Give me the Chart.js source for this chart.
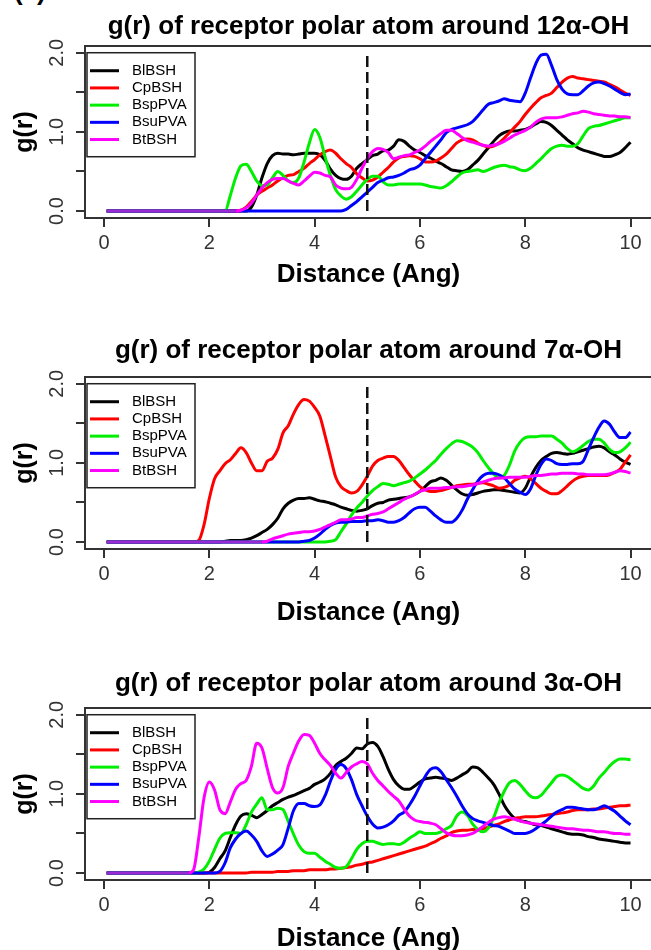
<!DOCTYPE html>
<html>
<head>
<meta charset="utf-8">
<script src="https://cdn.jsdelivr.net/npm/chart.js@4.4.1/dist/chart.umd.min.js"></script>
<style>
  html, body { margin: 0; padding: 0; background: #fff; overflow: hidden; }
  body { width: 651px; height: 950px; position: relative; }
  canvas { position: absolute; left: 0; }
  #tag { position: absolute; left: 14px; top: -24px; font: bold 26px "Liberation Sans", Arial, sans-serif; }
</style>
</head>
<body>
<div id="tag">(a)</div>
<canvas id="c12" width="660" height="331" style="top:0px"></canvas>
<canvas id="c7" width="660" height="331" style="top:331px"></canvas>
<canvas id="c3" width="660" height="331" style="top:662px"></canvas>
<script>
// distance (Ang)
const dist = [0.05,
  1.6, 1.7, 1.8, 1.9,
  2.0, 2.1, 2.2, 2.3, 2.4, 2.5, 2.6, 2.7, 2.8, 2.9,
  3.0, 3.1, 3.2, 3.3, 3.4, 3.5, 3.6, 3.7, 3.8, 3.9,
  4.0, 4.1, 4.2, 4.3, 4.4, 4.5, 4.6, 4.7, 4.8, 4.9,
  5.0, 5.1, 5.2, 5.3, 5.4, 5.5, 5.6, 5.7, 5.8, 5.9,
  6.0, 6.1, 6.2, 6.3, 6.4, 6.5, 6.6, 6.7, 6.8, 6.9,
  7.0, 7.1, 7.2, 7.3, 7.4, 7.5, 7.6, 7.7, 7.8, 7.9,
  8.0, 8.1, 8.2, 8.3, 8.4, 8.5, 8.6, 8.7, 8.8, 8.9,
  9.0, 9.1, 9.2, 9.3, 9.4, 9.5, 9.6, 9.7, 9.8, 9.9,
  10.0]

const names = ["BlBSH", "CpBSH", "BspPVA", "BsuPVA", "BtBSH"]
const xTicks = [0, 2, 4, 6, 8, 10]
const yTicks = [0, 0.5, 1, 1.5, 2]
const cutoff = 5

// 12a-OH
const oh12_BlBSH = [0, 0,0,0,0, 0,0,0,0,0,0,0,0,0.05,0.2, 0.42,0.6,0.7,0.73,0.72,0.72,0.71,0.72,0.73,0.73, 0.73,0.71,0.64,0.53,0.45,0.41,0.4,0.44,0.54,0.6, 0.65,0.7,0.72,0.76,0.77,0.82,0.9,0.88,0.82,0.77, 0.74,0.7,0.67,0.63,0.6,0.56,0.52,0.51,0.5,0.52, 0.58,0.64,0.72,0.8,0.88,0.95,0.99,1.01,1.01,1.02, 1.03,1.06,1.1,1.13,1.12,1.08,1.02,0.96,0.9,0.85, 0.8,0.77,0.75,0.73,0.71,0.69,0.69,0.71,0.74,0.8, 0.87]
const oh12_CpBSH = [0, 0,0,0,0, 0,0,0,0,0,0,0.01,0.05,0.12,0.2, 0.25,0.29,0.33,0.38,0.42,0.45,0.46,0.5,0.54,0.6, 0.65,0.71,0.75,0.77,0.73,0.66,0.6,0.55,0.47,0.42, 0.38,0.39,0.43,0.49,0.55,0.62,0.67,0.69,0.7,0.69, 0.66,0.62,0.62,0.63,0.67,0.72,0.79,0.86,0.9,0.91, 0.9,0.86,0.83,0.81,0.82,0.86,0.92,0.99,1.06,1.13, 1.22,1.3,1.37,1.43,1.46,1.49,1.56,1.63,1.68,1.7, 1.68,1.67,1.66,1.65,1.64,1.63,1.6,1.57,1.53,1.49, 1.46]
const oh12_BspPVA = [0, 0,0,0,0, 0,0,0,0,0.2,0.42,0.57,0.59,0.5,0.38, 0.32,0.33,0.42,0.5,0.45,0.38,0.36,0.42,0.62,0.86, 1.03,0.93,0.68,0.45,0.27,0.19,0.15,0.18,0.25,0.33, 0.4,0.44,0.44,0.37,0.33,0.33,0.34,0.34,0.34,0.34, 0.34,0.33,0.31,0.3,0.29,0.32,0.37,0.43,0.48,0.5, 0.51,0.52,0.5,0.52,0.55,0.57,0.58,0.56,0.55,0.52, 0.51,0.54,0.6,0.66,0.73,0.79,0.82,0.83,0.82,0.82, 0.85,0.95,1.04,1.07,1.08,1.1,1.12,1.14,1.16,1.18, 1.18]
const oh12_BsuPVA = [0, 0,0,0,0, 0,0,0,0,0,0,0,0,0,0, 0,0,0,0,0,0,0,0,0,0, 0,0,0,0,0,0,0.02,0.07,0.12,0.18, 0.24,0.3,0.36,0.39,0.42,0.43,0.45,0.48,0.52,0.54, 0.58,0.66,0.74,0.82,0.9,0.99,1.03,1.05,1.07,1.09, 1.13,1.2,1.28,1.35,1.37,1.39,1.42,1.4,1.39,1.38, 1.49,1.68,1.86,1.97,1.98,1.84,1.66,1.54,1.48,1.47, 1.47,1.52,1.58,1.62,1.63,1.61,1.58,1.54,1.5,1.47, 1.48]
const oh12_BtBSH = [0, 0,0,0,0, 0,0,0,0,0,0,0.01,0.04,0.1,0.2, 0.29,0.36,0.4,0.41,0.41,0.38,0.35,0.33,0.38,0.44, 0.49,0.48,0.45,0.43,0.33,0.29,0.28,0.3,0.4,0.54, 0.66,0.75,0.79,0.78,0.74,0.66,0.68,0.7,0.71,0.74, 0.77,0.82,0.88,0.93,0.98,1.02,1.02,0.98,0.93,0.89, 0.87,0.85,0.83,0.82,0.83,0.85,0.88,0.92,0.96,0.99, 1.02,1.06,1.12,1.16,1.18,1.18,1.18,1.19,1.21,1.23, 1.24,1.26,1.25,1.23,1.22,1.21,1.2,1.2,1.19,1.19, 1.18]

// 7a-OH
const oh7_BlBSH = [0, 0,0,0,0, 0,0,0,0.01,0.02,0.02,0.02,0.03,0.05,0.08, 0.12,0.16,0.22,0.3,0.42,0.49,0.53,0.55,0.55,0.56, 0.54,0.52,0.51,0.49,0.47,0.44,0.42,0.4,0.39,0.4, 0.42,0.46,0.49,0.5,0.53,0.54,0.55,0.56,0.57,0.6, 0.64,0.7,0.76,0.78,0.81,0.78,0.72,0.66,0.61,0.59, 0.6,0.62,0.64,0.65,0.66,0.66,0.65,0.64,0.63,0.62, 0.68,0.82,0.94,1.03,1.08,1.12,1.13,1.12,1.11,1.12, 1.14,1.16,1.18,1.2,1.21,1.19,1.14,1.1,1.05,1.01, 0.98]
const oh7_CpBSH = [0, 0,0,0.02,0.22, 0.55,0.8,0.9,0.99,1.04,1.12,1.19,1.13,1.0,0.9, 0.9,1.02,1.06,1.17,1.38,1.47,1.62,1.74,1.8,1.78, 1.7,1.59,1.34,1.08,0.82,0.7,0.65,0.62,0.64,0.72, 0.83,0.96,1.03,1.06,1.08,1.08,1.03,0.94,0.85,0.77, 0.7,0.66,0.64,0.64,0.65,0.67,0.69,0.71,0.72,0.73, 0.73,0.74,0.75,0.73,0.71,0.68,0.69,0.72,0.78,0.81, 0.83,0.8,0.74,0.68,0.64,0.61,0.61,0.65,0.71,0.77, 0.81,0.83,0.84,0.84,0.84,0.84,0.85,0.88,0.92,1.01, 1.1]
const oh7_BspPVA = [0, 0,0,0,0, 0,0,0,0,0,0,0,0,0,0, 0,0,0,0,0,0,0,0,0,0, 0,0,0,0.01,0.03,0.13,0.23,0.34,0.43,0.5, 0.58,0.65,0.7,0.74,0.73,0.71,0.73,0.75,0.77,0.81, 0.86,0.91,0.97,1.03,1.11,1.18,1.24,1.28,1.27,1.24, 1.2,1.13,1.03,0.94,0.86,0.81,0.84,0.97,1.15,1.26, 1.32,1.33,1.33,1.34,1.34,1.34,1.3,1.25,1.18,1.14, 1.17,1.22,1.27,1.3,1.3,1.25,1.17,1.13,1.14,1.19, 1.26]
const oh7_BsuPVA = [0, 0,0,0,0, 0,0,0,0,0,0,0,0,0,0, 0,0,0,0,0,0,0,0,0.01,0.02, 0.05,0.1,0.16,0.21,0.24,0.25,0.25,0.26,0.26,0.26, 0.27,0.27,0.28,0.27,0.25,0.25,0.27,0.31,0.37,0.42, 0.44,0.44,0.39,0.33,0.28,0.25,0.25,0.3,0.4,0.54, 0.66,0.77,0.84,0.87,0.87,0.85,0.81,0.74,0.67,0.63, 0.6,0.67,0.84,0.98,1.05,1.03,0.99,0.98,0.98,0.99, 0.99,1.02,1.17,1.32,1.45,1.53,1.49,1.39,1.32,1.32, 1.39]
const oh7_BtBSH = [0, 0,0,0,0, 0,0,0,0,0,0,0,0,0,0, 0,0.01,0.04,0.06,0.08,0.1,0.11,0.12,0.13,0.13, 0.14,0.16,0.19,0.22,0.25,0.28,0.28,0.29,0.31,0.31, 0.33,0.35,0.36,0.38,0.42,0.46,0.5,0.54,0.57,0.6, 0.64,0.66,0.68,0.68,0.68,0.69,0.69,0.7,0.7,0.71, 0.72,0.74,0.76,0.78,0.8,0.81,0.81,0.82,0.82,0.82, 0.82,0.83,0.84,0.84,0.85,0.86,0.86,0.87,0.87,0.87, 0.86,0.86,0.85,0.85,0.85,0.85,0.86,0.88,0.9,0.89, 0.87]

// 3a-OH
const oh3_BlBSH = [0, 0,0,0,0, 0.01,0.07,0.18,0.28,0.45,0.61,0.72,0.75,0.73,0.7, 0.74,0.79,0.85,0.89,0.93,0.96,0.98,1.01,1.04,1.07, 1.12,1.15,1.19,1.26,1.36,1.41,1.45,1.51,1.58,1.57, 1.63,1.65,1.6,1.47,1.31,1.18,1.1,1.06,1.06,1.1, 1.15,1.19,1.2,1.21,1.2,1.19,1.17,1.2,1.24,1.28, 1.34,1.33,1.27,1.2,1.12,1.0,0.86,0.76,0.69,0.66, 0.65,0.63,0.61,0.6,0.58,0.56,0.54,0.52,0.5,0.49, 0.49,0.48,0.46,0.45,0.43,0.42,0.41,0.4,0.39,0.38, 0.38]
const oh3_CpBSH = [0, 0,0,0,0, 0,0,0,0,0,0,0,0,0.01,0.01, 0.01,0.01,0.01,0.02,0.02,0.02,0.03,0.03,0.03,0.04, 0.04,0.04,0.04,0.05,0.05,0.06,0.07,0.08,0.1,0.11, 0.13,0.14,0.16,0.18,0.2,0.22,0.24,0.26,0.28,0.3, 0.32,0.34,0.37,0.4,0.44,0.47,0.51,0.53,0.54,0.54, 0.55,0.55,0.56,0.58,0.6,0.62,0.65,0.67,0.69,0.7, 0.71,0.71,0.71,0.72,0.73,0.74,0.75,0.76,0.77,0.79, 0.8,0.8,0.8,0.81,0.81,0.82,0.83,0.84,0.85,0.85, 0.86]
const oh3_BspPVA = [0, 0,0,0.01,0.05, 0.15,0.3,0.44,0.5,0.51,0.51,0.5,0.61,0.77,0.87, 0.95,0.8,0.8,0.82,0.8,0.65,0.49,0.35,0.27,0.25, 0.25,0.2,0.15,0.11,0.07,0.06,0.08,0.18,0.3,0.37, 0.4,0.4,0.38,0.36,0.37,0.37,0.36,0.39,0.44,0.48, 0.52,0.5,0.5,0.5,0.52,0.56,0.6,0.72,0.77,0.73, 0.62,0.55,0.52,0.57,0.7,0.88,1.03,1.14,1.17,1.12, 1.04,0.97,0.95,0.98,1.06,1.14,1.22,1.24,1.22,1.17, 1.12,1.07,1.05,1.1,1.2,1.27,1.35,1.41,1.44,1.44, 1.43]
const oh3_BsuPVA = [0, 0,0,0,0, 0,0,0.02,0.13,0.32,0.43,0.5,0.53,0.48,0.4, 0.28,0.21,0.24,0.29,0.36,0.57,0.79,0.88,0.88,0.85, 0.84,0.86,0.98,1.16,1.31,1.37,1.32,1.18,0.99,0.85, 0.72,0.62,0.57,0.58,0.61,0.66,0.73,0.77,0.86,0.97, 1.1,1.22,1.31,1.33,1.28,1.18,1.08,0.97,0.85,0.75, 0.69,0.66,0.64,0.62,0.6,0.59,0.56,0.53,0.5,0.5, 0.5,0.52,0.56,0.61,0.66,0.72,0.77,0.8,0.83,0.83, 0.82,0.81,0.8,0.8,0.82,0.85,0.82,0.78,0.72,0.66, 0.61]
const oh3_BtBSH = [0, 0,0.04,0.45,0.95, 1.15,1.05,0.8,0.75,0.9,1.06,1.13,1.17,1.35,1.64, 1.58,1.32,1.08,1.01,1.08,1.35,1.52,1.67,1.75,1.74, 1.64,1.51,1.43,1.36,1.26,1.2,1.27,1.34,1.38,1.41, 1.38,1.26,1.17,1.1,1.03,0.97,0.91,0.81,0.72,0.67, 0.65,0.64,0.63,0.61,0.56,0.51,0.48,0.47,0.47,0.48, 0.5,0.54,0.59,0.64,0.68,0.7,0.71,0.7,0.68,0.66, 0.64,0.63,0.62,0.61,0.6,0.59,0.58,0.57,0.56,0.56, 0.55,0.54,0.54,0.53,0.52,0.52,0.51,0.5,0.5,0.49, 0.49]

const colors = ["#000000", "#ff0000", "#00ee00", "#0000ff", "#ff00ff"]
const overlapColor = "#9a2ad6" // magenta sitting on blue along the zero baseline
const font = '"Liberation Sans", Arial, sans-serif'

// title / axis-title offsets differ a little between the three stacked plots
const panels = [
  { id: "c12", title: "g(r) of receptor polar atom around 12α-OH",
    series: [oh12_BlBSH, oh12_CpBSH, oh12_BspPVA, oh12_BsuPVA, oh12_BtBSH], tTop: 11.6, xPad: 40.7 },
  { id: "c7", title: "g(r) of receptor polar atom around 7α-OH",
    series: [oh7_BlBSH, oh7_CpBSH, oh7_BspPVA, oh7_BsuPVA, oh7_BtBSH], tTop: 4.1, xPad: 33.2 },
  { id: "c3", title: "g(r) of receptor polar atom around 3α-OH",
    series: [oh3_BlBSH, oh3_CpBSH, oh3_BspPVA, oh3_BsuPVA, oh3_BtBSH], tTop: 5.9, xPad: 38.2 }
]

const frame = {
  id: "frame",
  afterDatasetsDraw(chart) {
    const {ctx, chartArea: a} = chart
    ctx.save()
    ctx.strokeStyle = "#333"
    ctx.lineWidth = 2
    ctx.strokeRect(a.left, a.top, a.right - a.left, a.bottom - a.top)
    ctx.restore()
  }
}

const legendBox = {
  id: "legendBox",
  afterDraw(chart) {
    const {ctx, chartArea, scales} = chart
    const left = chartArea.left + 2
    const top = scales.y.getPixelForValue(2)
    ctx.save()
    ctx.strokeStyle = "#222"
    ctx.lineWidth = 1.5
    ctx.strokeRect(left, top, 108, 104)
    ctx.font = "15px " + font
    ctx.textBaseline = "middle"
    names.forEach((name, i) => {
      const yy = top + 18 + i * 17.2
      ctx.strokeStyle = colors[i]
      ctx.lineWidth = 3
      ctx.beginPath()
      ctx.moveTo(left + 3, yy)
      ctx.lineTo(left + 32, yy)
      ctx.stroke()
      ctx.fillStyle = "#000"
      ctx.fillText(name, left + 45, yy)
    })
    ctx.restore()
  }
}

const makeChart = (p) => {
  const datasets = p.series.map((vals, i) => ({
    label: names[i],
    data: dist.map((d, j) => ({ x: d, y: vals[j] })),
    borderColor: colors[i],
    borderWidth: 3,
    pointRadius: 0,
    cubicInterpolationMode: "monotone",
    borderJoinStyle: "round",
    order: 5 - i,
    segment: i === 4 ? {
      borderColor: c => (c.p0.parsed.y === 0 && c.p1.parsed.y === 0 ? overlapColor : undefined)
    } : undefined
  }))
  datasets.push({
    label: "cutoff",
    data: [{ x: cutoff, y: 0 }, { x: cutoff, y: 2 }],
    borderColor: "#111",
    borderWidth: 2.5,
    borderDash: [11, 5],
    pointRadius: 0,
    order: 0
  })

  const axisGrid = { drawOnChartArea: false, drawTicks: true, tickLength: 9, color: "#333", lineWidth: 2 }

  return new Chart(document.getElementById(p.id), {
    type: "line",
    data: { datasets },
    plugins: [frame, legendBox],
    options: {
      responsive: false,
      animation: false,
      layout: { padding: { left: 0, right: 8, top: 0, bottom: 0 } },
      plugins: {
        legend: { display: false },
        tooltip: { enabled: false },
        title: {
          display: true,
          text: p.title,
          fullSize: false,
          color: "#000",
          font: { family: font, size: 26, weight: "bold" },
          padding: { top: p.tTop, bottom: 14.8 - p.tTop }
        }
      },
      scales: {
        x: {
          type: "linear",
          min: -0.361,
          max: 10.408,
          afterBuildTicks: s => { s.ticks = xTicks.map(v => ({ value: v })) },
          afterFit: s => { s.height = 113 },
          grid: axisGrid,
          border: { display: false },
          ticks: {
            autoSkip: false, maxRotation: 0, padding: 4, color: "#333",
            font: { family: font, size: 20 },
            callback: v => String(v)
          },
          title: {
            display: true, text: "Distance (Ang)", color: "#000",
            font: { family: font, size: 26, weight: "bold" },
            padding: { top: 0, bottom: p.xPad }
          }
        },
        y: {
          min: -0.088,
          max: 2.085,
          afterBuildTicks: s => { s.ticks = yTicks.map(v => ({ value: v })) },
          afterFit: s => { s.width = 85 },
          grid: axisGrid,
          border: { display: false },
          ticks: {
            autoSkip: false, minRotation: 90, maxRotation: 90, crossAlign: "center",
            padding: 5, color: "#333",
            font: { family: font, size: 20 },
            callback: v => (v % 1 === 0 ? v.toFixed(1) : "")
          },
          title: {
            display: true, text: "g(r)", color: "#000",
            font: { family: font, size: 25, weight: "bold" },
            padding: { top: 9.7, bottom: 0 }
          }
        }
      }
    }
  })
}

panels.forEach(makeChart)
</script>
</body>
</html>
